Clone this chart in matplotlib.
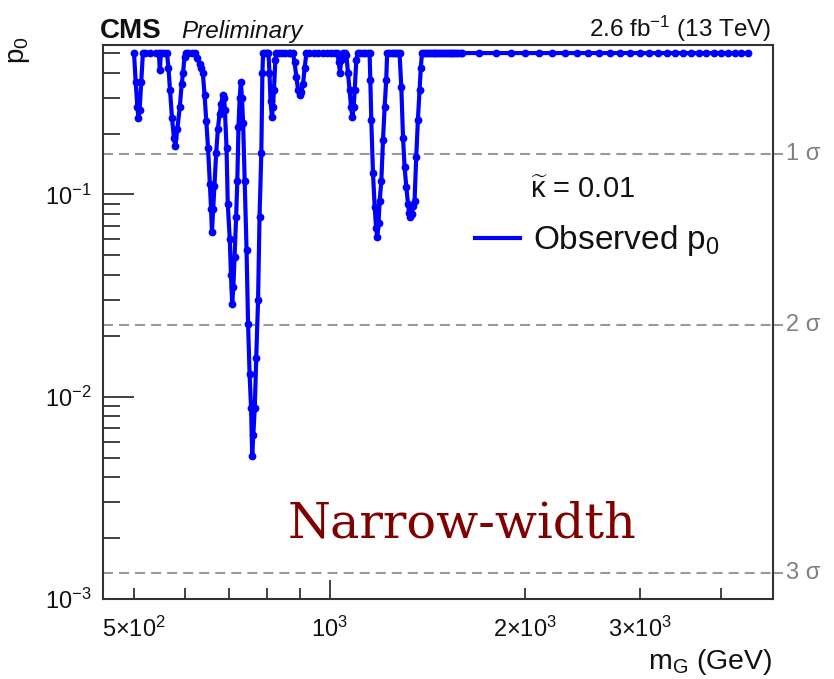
import matplotlib
matplotlib.use("Agg")
import matplotlib.pyplot as plt
from matplotlib.ticker import FixedLocator, FixedFormatter, NullFormatter, LogLocator, LogFormatterSciNotation
from matplotlib.lines import Line2D

plt.rcParams['font.family'] = ['Liberation Sans', 'DejaVu Sans']
plt.rcParams['mathtext.fontset'] = 'custom'
plt.rcParams['mathtext.rm'] = 'Liberation Sans'
plt.rcParams['mathtext.it'] = 'Liberation Sans:italic'
plt.rcParams['mathtext.bf'] = 'Liberation Sans:bold'
plt.rcParams['axes.unicode_minus'] = False

# Observed local p-value scan, narrow-width graviton hypothesis (kappa~ = 0.01)
mass_gev = [
    500, 503, 506, 508, 510, 513, 516,
    520, 530, 540, 546, 548, 550, 556, 562, 565, 568, 572, 576, 579, 583, 588, 592, 595, 598, 601,
    606, 614, 620, 625, 631, 635, 638, 642, 646, 650, 654, 657, 659,
    662, 665, 669, 673, 677, 681, 685, 688,
    690, 694, 697, 702, 705, 708,
    711, 714, 718, 721, 724, 727, 730,
    733, 736, 740, 745, 749, 753, 757, 760,
    763, 767, 771, 776, 780, 785, 788, 790,
    795, 800, 805, 808, 811, 815, 818, 821, 825, 828,
    835, 845, 855, 865, 870, 878, 883, 889, 894, 899, 904, 910, 915, 921,
    930, 945, 960, 975, 990, 1005, 1020, 1028, 1033, 1037, 1042,
    1048, 1055, 1061, 1067, 1073, 1079, 1084, 1089, 1093, 1099, 1105,
    1115, 1125, 1135, 1145, 1152, 1155, 1159, 1166, 1173, 1179, 1184,
    1189, 1194, 1201, 1208, 1215, 1222, 1226,
    1235, 1245, 1255, 1265, 1275, 1281, 1289, 1297, 1304, 1312, 1320,
    1325, 1331, 1338, 1345, 1351, 1359, 1367, 1375, 1381, 1387,
    1395, 1405, 1415, 1425, 1435, 1445, 1455, 1465, 1475, 1485, 1495,
    1505, 1515, 1525, 1535, 1545, 1555, 1565, 1575, 1590, 1600,
    1700, 1800, 1900, 2000, 2100, 2200, 2300, 2400, 2500, 2600,
    2700, 2800, 2900, 3000, 3100, 3200, 3300, 3400, 3500, 3600,
    3700, 3800, 3900, 4000, 4100, 4200, 4300, 4400,
]
p0_obs = [
    0.50, 0.36, 0.27, 0.24, 0.26, 0.36, 0.50,
    0.50, 0.50, 0.50, 0.50, 0.41, 0.50, 0.50, 0.50, 0.42, 0.33, 0.24, 0.19, 0.173, 0.21, 0.27, 0.35, 0.40, 0.48, 0.50,
    0.50, 0.50, 0.50, 0.47, 0.44, 0.42, 0.40, 0.31, 0.23, 0.17, 0.113, 0.085, 0.065,
    0.085, 0.11, 0.16, 0.21, 0.25, 0.28, 0.31, 0.30,
    0.26, 0.17, 0.09, 0.06, 0.04, 0.0287,
    0.035, 0.049, 0.077, 0.117, 0.216, 0.30, 0.36,
    0.30, 0.225, 0.117, 0.053, 0.023, 0.013, 0.0088, 0.0051,
    0.0065, 0.0088, 0.0156, 0.030, 0.077, 0.16, 0.40, 0.50,
    0.50, 0.50, 0.50, 0.40, 0.29, 0.242, 0.27, 0.33, 0.46, 0.50,
    0.50, 0.50, 0.50, 0.50, 0.50, 0.50, 0.45, 0.38, 0.33, 0.31, 0.32, 0.35, 0.42, 0.50,
    0.50, 0.50, 0.50, 0.50, 0.50, 0.50, 0.50, 0.50, 0.45, 0.40, 0.46,
    0.50, 0.50, 0.49, 0.40, 0.33, 0.27, 0.242, 0.27, 0.33, 0.46, 0.50,
    0.50, 0.50, 0.50, 0.50, 0.50, 0.37, 0.233, 0.127, 0.087, 0.068, 0.0614,
    0.072, 0.093, 0.117, 0.185, 0.27, 0.37, 0.50,
    0.50, 0.50, 0.50, 0.50, 0.50, 0.50, 0.34, 0.19, 0.137, 0.109, 0.09,
    0.081, 0.077, 0.08, 0.088, 0.093, 0.153, 0.233, 0.328, 0.42, 0.50,
    0.50, 0.50, 0.50, 0.50, 0.50, 0.50, 0.50, 0.50, 0.50, 0.50, 0.50,
    0.50, 0.50, 0.50, 0.50, 0.50, 0.50, 0.50, 0.50, 0.50, 0.50,
    0.50, 0.50, 0.50, 0.50, 0.50, 0.50, 0.50, 0.50, 0.50, 0.50,
    0.50, 0.50, 0.50, 0.50, 0.50, 0.50, 0.50, 0.50, 0.50, 0.50,
    0.50, 0.50, 0.50, 0.50, 0.50, 0.50, 0.50, 0.50,
]

# One-sided p-values of the 1, 2, 3 sigma reference levels
sigma_p0 = [0.1587, 0.02275, 0.00135]
sigma_labels = ['1 σ', '2 σ', '3 σ']

x_major = [1000]
x_major_labels = [r'10$^{3}$']
x_minor = [500, 600, 700, 800, 900, 2000, 3000, 4000]
x_minor_labels = [r'5×10$^{2}$', '', '', '', '', r'2×10$^{3}$', r'3×10$^{3}$', '']

W, H = 834, 679
fig = plt.figure(figsize=(W / 100, H / 100), dpi=100)
fig.patch.set_facecolor('white')


def fpos(x, y):
    return x / W, 1 - y / H


ax = fig.add_axes([103 / W, 1 - 599 / H, (773 - 103) / W, (599 - 45) / H])
ax.set_xscale('log')
ax.set_yscale('log')
ax.set_xlim(448, 4810)
ax.set_ylim(1e-3, 0.548)

frame_col = '#333333'
for s in ax.spines.values():
    s.set_color(frame_col)
    s.set_linewidth(1.5)

# sigma reference lines
for p, lab in zip(sigma_p0, sigma_labels):
    ax.axhline(p, color='#999999', lw=1.5, ls=(0, (4.8, 2.9)), zorder=1)
    ax.plot([1.0, 1.014], [p, p], transform=ax.get_yaxis_transform(),
            color='#999999', lw=1.5, clip_on=False)
    ax.text(1.019, p, lab, transform=ax.get_yaxis_transform(), ha='left',
            va='center', fontsize=17, color='#808080')

# observed p0 curve
ax.plot(mass_gev, p0_obs, color='#0000ff', lw=3.0, marker='o', ms=4.6,
        mec='#0000ff', mfc='#0000ff', zorder=3)

# axis ticks
ax.xaxis.set_major_locator(FixedLocator(x_major))
ax.xaxis.set_major_formatter(FixedFormatter(x_major_labels))
ax.xaxis.set_minor_locator(FixedLocator(x_minor))
ax.xaxis.set_minor_formatter(FixedFormatter(x_minor_labels))
ax.yaxis.set_major_locator(LogLocator(base=10, numticks=10))
ax.yaxis.set_major_formatter(LogFormatterSciNotation())
ax.yaxis.set_minor_locator(LogLocator(base=10, subs=range(2, 10), numticks=20))
ax.yaxis.set_minor_formatter(NullFormatter())

ax.tick_params(which='both', direction='in', top=False, right=False,
               color=frame_col, width=1.3, labelsize=17, labelcolor='#111111')
ax.tick_params(axis='x', which='major', length=14, pad=13)
ax.tick_params(axis='x', which='minor', length=8, pad=13, labelsize=17)
ax.tick_params(axis='y', which='major', length=22, pad=8)
ax.tick_params(axis='y', which='minor', length=12)

# axis titles
fig.text(*fpos(772, 662), r'm$_{\mathrm{G}}$ (GeV)', ha='right', va='center',
         fontsize=20.5, color='#111111')
fig.text(*fpos(19, 36), r'p$_{\mathrm{0}}$', ha='center', va='top', rotation=90,
         fontsize=20, color='#111111')

# header
fig.text(*fpos(100, 38), 'CMS', ha='left', va='baseline', fontsize=20,
         fontweight='bold', color='#111111')
fig.text(*fpos(181, 38), 'Preliminary', ha='left', va='baseline', fontsize=17.5,
         fontstyle='italic', color='#111111')
fig.text(*fpos(771, 37), r'2.6 fb$^{\mathrm{-1}}$ (13 TeV)', ha='right',
         va='baseline', fontsize=17.5, color='#111111')

# legend
fig.text(*fpos(530, 190), r'$\widetilde{\mathrm{\kappa}}$ = 0.01', ha='left',
         va='center', fontsize=21, color='#111111')
fig.add_artist(Line2D([475 / W, 520 / W], [1 - 238 / H, 1 - 238 / H],
                      color='#0000ff', lw=3.0))
fig.text(*fpos(533, 240), r'Observed p$_{\mathrm{0}}$', ha='left', va='center',
         fontsize=24, color='#111111')

# analysis tag
fig.text(*fpos(288, 537), 'Narrow-width', ha='left', va='baseline',
         fontsize=35.5, family='DejaVu Serif', color='#800000')

fig.savefig('out.png', dpi=100, facecolor='white')
